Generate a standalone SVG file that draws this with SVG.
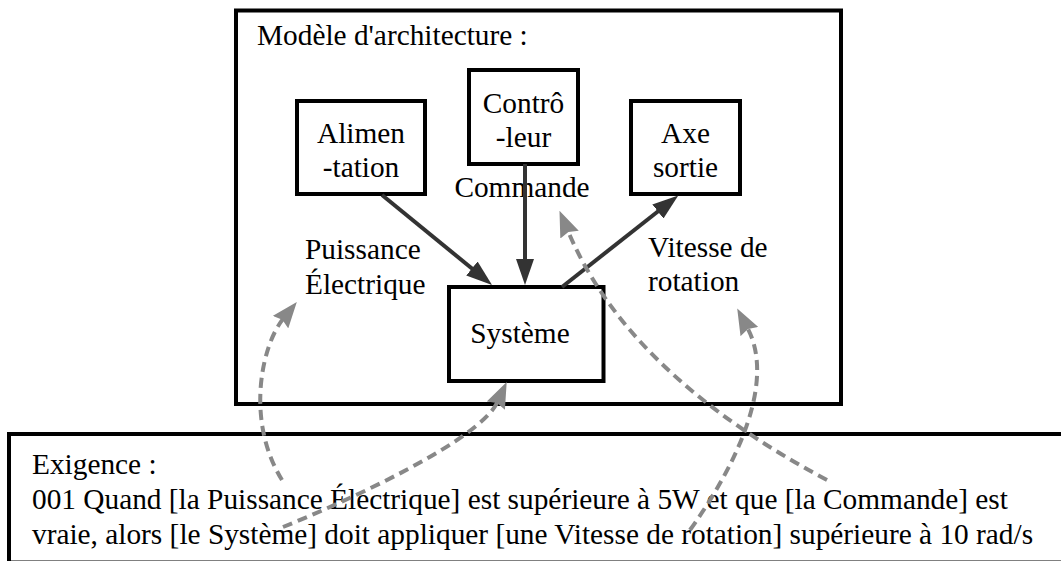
<svg xmlns="http://www.w3.org/2000/svg" width="1061" height="561" viewBox="0 0 1061 561">
<style>
.box{fill:#fff;stroke:#000;stroke-width:4}
.t{font-family:'Liberation Serif','Times New Roman',serif;font-size:29.33px;fill:#000}
.m{text-anchor:middle}
.dark{fill:none;stroke:#333;stroke-width:4}
.dash{fill:none;stroke:#888;stroke-width:4;stroke-dasharray:10 6}
</style>
<defs>
<marker id="ad" markerUnits="userSpaceOnUse" markerWidth="26" markerHeight="18" viewBox="0 0 26 18" refX="4" refY="9" orient="auto"><path d="M0,0 L26,9 L0,18 z" fill="#333"/></marker>
<marker id="ag" markerUnits="userSpaceOnUse" markerWidth="26" markerHeight="20" viewBox="0 0 26 20" refX="4" refY="10" orient="auto"><path d="M0,0 L26,10 L0,20 L3,10 z" fill="#888"/></marker>
</defs>
<rect width="1061" height="561" fill="#fff"/>
<g id="architecture">
<rect class="box" x="236" y="10.5" width="605" height="393.5"/>
<text class="t" x="257" y="45">Modèle d'architecture :</text>
</g>
<g id="alimentation">
<rect class="box" x="297" y="101" width="128" height="93"/>
<text class="t m" x="361" y="143">Alimen</text>
<text class="t m" x="361" y="177">-tation</text>
</g>
<g id="controleur">
<rect class="box" x="469" y="70" width="109" height="94"/>
<text class="t m" x="523.5" y="113">Contrô</text>
<text class="t m" x="523.5" y="147">-leur</text>
</g>
<g id="axe">
<rect class="box" x="631" y="101" width="109" height="93"/>
<text class="t m" x="685.5" y="143">Axe</text>
<text class="t m" x="685.5" y="177">sortie</text>
</g>
<g id="systeme">
<rect class="box" x="449" y="287" width="154.5" height="94"/>
<text class="t m" x="520" y="343">Système</text>
</g>
<g id="exigence">
<rect class="box" x="9" y="434" width="1070" height="128.5"/>
<text class="t" x="32" y="474">Exigence :</text>
<text class="t" x="32" y="509">001 Quand [la Puissance Électrique] est supérieure à 5W et que [la Commande] est</text>
<text class="t" x="32" y="544">vraie, alors [le Système] doit appliquer [une Vitesse de rotation] supérieure à 10 rad/s</text>
</g>
<g id="labels">
<text class="t m" x="522" y="197">Commande</text>
<text class="t" x="305" y="259">Puissance</text>
<text class="t" x="305" y="294">Électrique</text>
<text class="t" x="648" y="257">Vitesse de</text>
<text class="t" x="648" y="291">rotation</text>
</g>
<g id="connectors">
<path class="dark" d="M382,195 L475,271" marker-end="url(#ad)"/>
<path class="dark" d="M525,164 L525,263" marker-end="url(#ad)"/>
<path class="dark" d="M562,287 L661,209" marker-end="url(#ad)"/>
<path class="dash" d="M282,480 C245,420 262,345 283,319" marker-end="url(#ag)"/>
<path class="dash" d="M283,527 C350,500 480,440 497.5,402" marker-end="url(#ag)"/>
<path class="dash" d="M827,480 Q628,374 568,231" marker-end="url(#ag)"/>
<path class="dash" d="M690,530 C740,460 775,380 747.5,328" marker-end="url(#ag)"/>
</g>
</svg>
